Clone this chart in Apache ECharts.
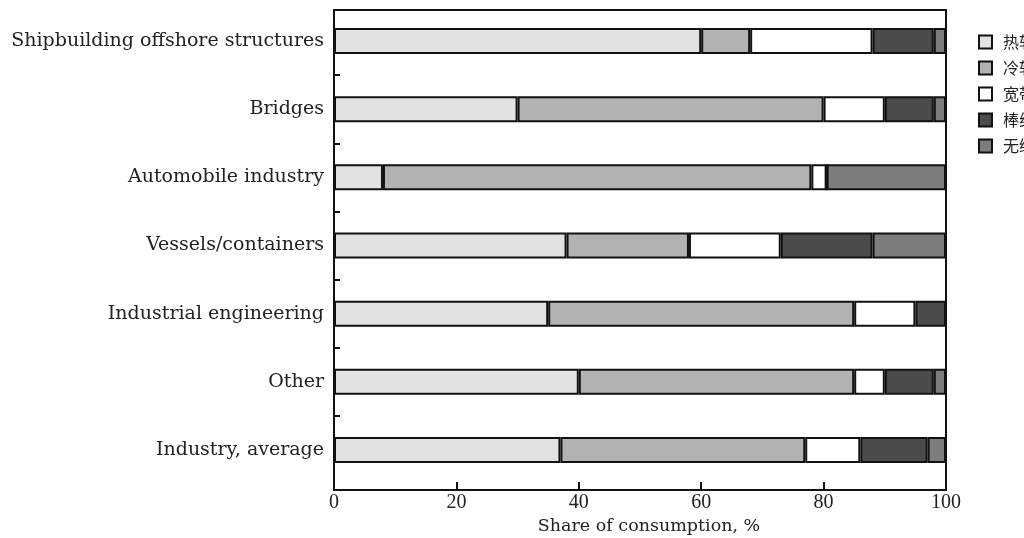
<!DOCTYPE html>
<html>
<head>
<meta charset="utf-8">
<script src="https://cdn.jsdelivr.net/npm/echarts@6/dist/echarts.min.js"></script>
<style>
  html, body { margin: 0; padding: 0; background: #fff; }
  #chart { width: 1024px; height: 538px; }
</style>
</head>
<body>
<div id="chart"></div>
<script>
// Sectors (top to bottom)
const categories = [
  'Shipbuilding offshore structures',
  'Bridges',
  'Automobile industry',
  'Vessels/containers',
  'Industrial engineering',
  'Other',
  'Industry, average'
];

// Product groups
const seriesNames = ['热轧板', '冷轧板', '宽带钢', '棒线材', '无缝管'];

// Share of consumption, % (one array per product group, in category order)
const plate     = [60, 30, 8, 38, 35, 40, 37];
const coldStrip = [8, 50, 70, 20, 50, 45, 40];
const wideStrip = [20, 10, 2.5, 15, 10, 5, 9];
const barsWire  = [10, 8, 0, 15, 5, 8, 11];
const tubes     = [2, 2, 19.5, 12, 0, 2, 3];

const xTicks = [0, 20, 40, 60, 80, 100];

const seriesValues = [plate, coldStrip, wideStrip, barsWire, tubes];
const fills = ['#e2e2e2', '#b2b2b2', '#ffffff', '#4b4b4b', '#7d7d7d'];

const serif = 'DejaVu Serif';
const numSerif = 'Liberation Serif';
const ink = '#222';

// Category band layout: bars live in [barTop, 538 - barBottom]
const barTop = 7;
const barBottom = 54;
const band = (538 - barTop - barBottom) / categories.length;

const chart = echarts.init(document.getElementById('chart'), null, { renderer: 'canvas' });

chart.setOption({
  animation: false,
  backgroundColor: '#ffffff',
  legend: {
    orient: 'vertical',
    left: 973,
    top: 29,
    icon: 'rect',
    itemWidth: 13,
    itemHeight: 13,
    itemGap: 10,
    data: seriesNames,
    textStyle: { fontFamily: 'Noto Sans CJK SC', fontSize: 16, color: ink, padding: [0, 0, 0, 6] }
  },
  grid: [
    // bars and category labels
    { left: 334, right: 78, top: barTop, bottom: barBottom, containLabel: false, outerBoundsMode: 'none' },
    // frame and value axis
    {
      left: 334, right: 78, top: 10, bottom: 48,
      show: true, borderColor: '#111', borderWidth: 2,
      containLabel: false, outerBoundsMode: 'none'
    },
    // separator ticks between categories
    {
      left: 334, right: 78,
      top: barTop + band,
      bottom: barBottom + band,
      containLabel: false, outerBoundsMode: 'none'
    }
  ],
  xAxis: [
    { gridIndex: 0, type: 'value', min: 0, max: 100, show: false },
    {
      gridIndex: 1,
      type: 'value',
      min: 0,
      max: 100,
      interval: 20,
      name: 'Share of consumption, %',
      nameLocation: 'middle',
      nameGap: 27,
      nameTextStyle: { fontFamily: serif, fontSize: 17.5, color: ink, padding: [0, 0, 0, 18] },
      axisLine: { show: true, lineStyle: { color: '#111', width: 2 } },
      axisTick: { show: true, inside: true, length: 8, lineStyle: { color: '#111', width: 2 } },
      axisLabel: {
        fontFamily: numSerif, fontSize: 20, color: ink, margin: 3,
        formatter: v => (xTicks.indexOf(v) >= 0 ? String(v) : '')
      },
      splitLine: { show: false }
    },
    { gridIndex: 2, type: 'value', min: 0, max: 100, show: false }
  ],
  yAxis: [
    {
      gridIndex: 0,
      type: 'category',
      data: categories,
      inverse: true,
      axisLine: { show: false },
      axisTick: { show: false },
      axisLabel: { fontFamily: serif, fontSize: 19, color: ink, margin: 10 },
      splitLine: { show: false }
    },
    { gridIndex: 1, type: 'value', min: 0, max: 1, show: false },
    {
      gridIndex: 2,
      type: 'value',
      min: 0,
      max: categories.length - 2,
      interval: 1,
      inverse: true,
      axisLine: { show: false },
      axisTick: { show: true, inside: true, length: 6, lineStyle: { color: '#111', width: 2 } },
      axisLabel: { show: false },
      splitLine: { show: false }
    }
  ],
  series: seriesNames.map((name, i) => ({
    name: name,
    type: 'bar',
    stack: 'share',
    xAxisIndex: 0,
    yAxisIndex: 0,
    barWidth: 26,
    data: seriesValues[i],
    itemStyle: { color: fills[i], borderColor: '#111', borderWidth: 2 },
    emphasis: { disabled: true }
  }))
});
</script>
</body>
</html>
